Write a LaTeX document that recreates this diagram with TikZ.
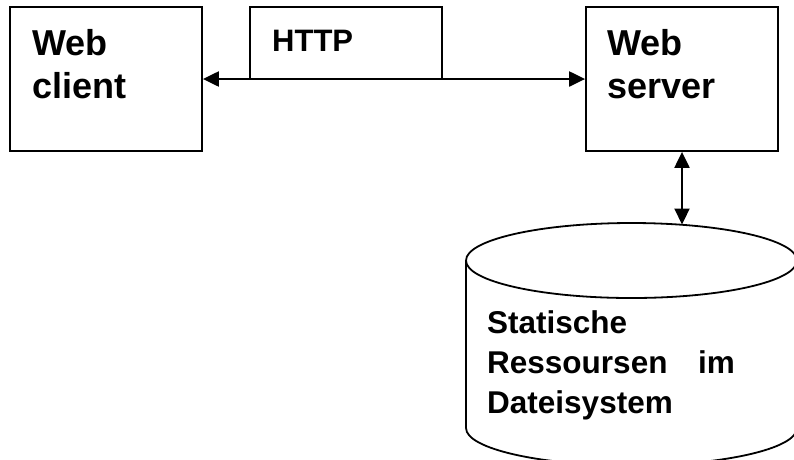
\documentclass[tikz,border=0pt]{standalone}
\usepackage{fontspec}
\setmainfont{Liberation Sans}
\usetikzlibrary{arrows.meta}
\begin{document}
\begin{tikzpicture}[x=1pt,y=1pt,
  box/.style={draw=black, line width=1.8pt, fill=white, minimum width=192pt, inner sep=0pt},
  big/.style={font=\fontsize{36}{43}\selectfont\bfseries, anchor=base west, align=left, text width=170pt, inner sep=0pt},
  mid/.style={font=\fontsize{31}{40}\selectfont\bfseries, anchor=base west, align=left, text width=300pt, inner sep=0pt},
  link/.style={line width=2.2pt, {Triangle[length=16pt,width=15pt]}-{Triangle[length=16pt,width=15pt]}},
  shapeline/.style={line width=1.8pt}]
\useasboundingbox (0,0) rectangle (794,-459);
\clip (0,0) rectangle (794,-459);
\fill[white] (0,0) rectangle (794,-459);

% the three boxes
\node[box, minimum height=144pt] (client) at (106,-79) {};
\node[box, minimum height=72pt] (http) at (346,-43) {};
\node[box, minimum height=144pt] (server) at (682,-79) {};

% their labels
\node[big] (clientlbl) at (32,-55) {Web\\client};
\node[mid] (httplbl) at (272,-51) {HTTP};
\node[big] (serverlbl) at (607,-55) {Web\\server};

% the storage cylinder
\draw[shapeline] (631.5,-260.5) ellipse [x radius=165.5, y radius=37.5];
\draw[shapeline] (466,-260.5) -- (466,-428)
  arc [start angle=180, end angle=360, x radius=165.5, y radius=37.5]
  -- (797,-260.5);
\coordinate (dbtop) at (682,-224.5);
\node[mid, font=\fontsize{31.5}{40}\selectfont\bfseries] (dblbl) at (487,-333)
  {Statische\\Ressoursen\hspace{20pt} im\\Dateisystem};

% connectors
\draw[link] (client.east) -- (server.west);
\draw[link] (server.south) -- (dbtop);
\end{tikzpicture}
\end{document}
